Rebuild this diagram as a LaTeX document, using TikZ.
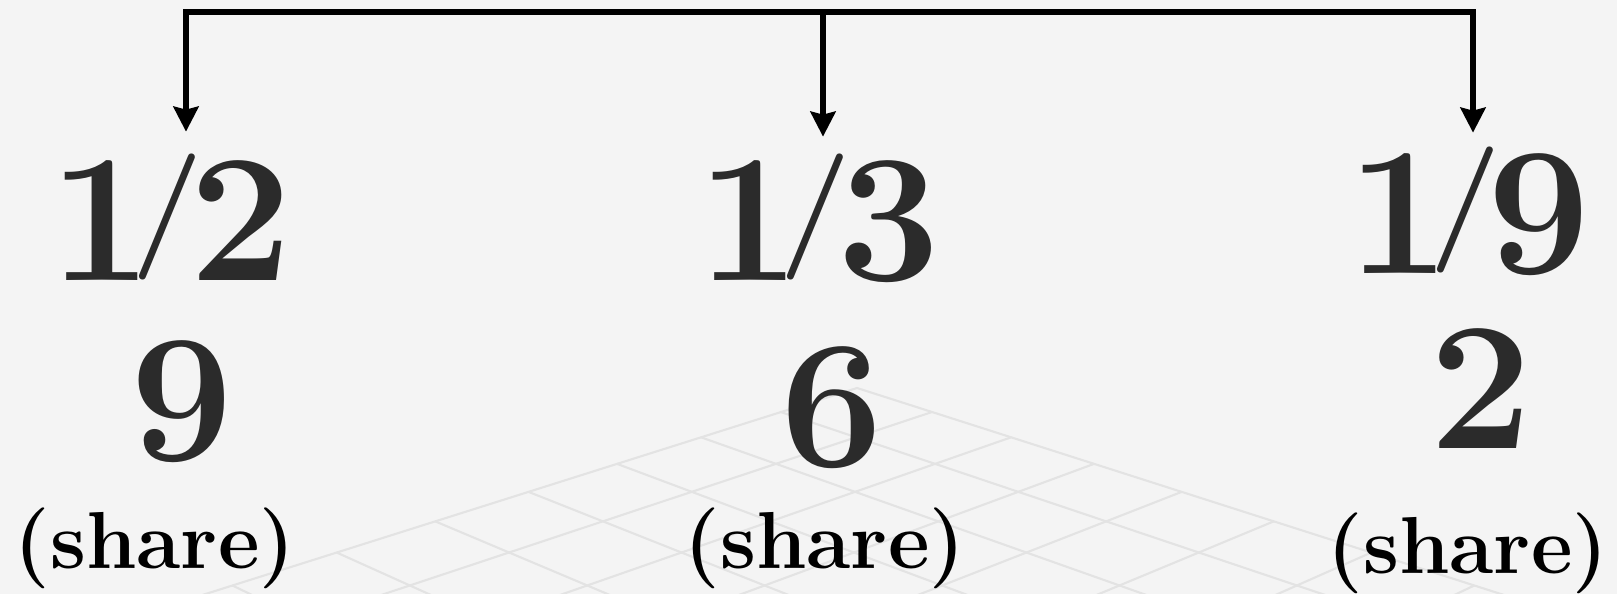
\documentclass[tikz,border=0pt]{standalone}
\usepackage{graphicx}
\usepackage{xcolor}
\usepackage{tikz}
\usetikzlibrary{arrows.meta}
\definecolor{paper}{HTML}{F4F4F4}
\definecolor{floorline}{HTML}{E3E3E3}
\definecolor{inkgray}{HTML}{2B2B2B}
\newcommand{\shfrac}[2]{#1\kern-.115em\raisebox{.17em}{\scalebox{.7}[.69]{/}}\kern-.08em#2}

\begin{document}
\begin{tikzpicture}[x=0.1mm,y=-0.1mm,>={Stealth[length=2.5mm,width=2.5mm,inset=.3mm]},
  num/.style={font=\fontsize{52}{60}\selectfont\bfseries,text=inkgray,inner sep=0pt,anchor=base},
  tag/.style={font=\fontsize{23}{28}\selectfont\bfseries,inner sep=0pt,anchor=base},
  link/.style={->,line width=1.7pt}]
  \useasboundingbox (0,0) rectangle (1617,594);
  \fill[paper] (0,0) rectangle (1617,594);
  % faint floor grid behind the numbers
  \begin{scope}
    \clip (0,0) rectangle (1617,594);
    \foreach \k in {0,...,8}{
      \draw[floorline,line width=.6pt]
        ({(857+52.8*\k)/(1-.024*\k)},{(388+14.16*\k)/(1-.024*\k)}) --
        ({(3.8+52.8*\k)/(.784-.024*\k)},{(515.44+14.16*\k)/(.784-.024*\k)});
      \draw[floorline,line width=.6pt]
        ({(857-94.8*\k)/(1-.024*\k)},{(388+14.16*\k)/(1-.024*\k)}) --
        ({(1332.2-94.8*\k)/(.784-.024*\k)},{(515.44+14.16*\k)/(.784-.024*\k)});
    }
  \end{scope}

  \node[num] (f1) at (171,280) {\shfrac{1}{2}};
  \node[num] (f2) at (819,280) {\shfrac{1}{3}};
  \node[num] (f3) at (1469,273) {\shfrac{1}{9}};

  \node[num] (n1) at (182,460) {9};
  \node[num] (n2) at (832,466) {6};
  \node[num] (n3) at (1481,448) {2};

  \node[tag] (s1) at (155,568) {(share)};
  \node[tag] (s2) at (825,568) {(share)};
  \node[tag] (s3) at (1468,573) {(share)};

  \coordinate (hub) at (823,12);
  \draw[link] (hub) -| ([xshift=1.5mm,yshift=2.2mm]f1.north);
  \draw[link] (hub) -- ([xshift=.4mm,yshift=1.7mm]f2.north);
  \draw[link] (hub) -| ([xshift=.4mm,yshift=1.4mm]f3.north);
\end{tikzpicture}
\end{document}
